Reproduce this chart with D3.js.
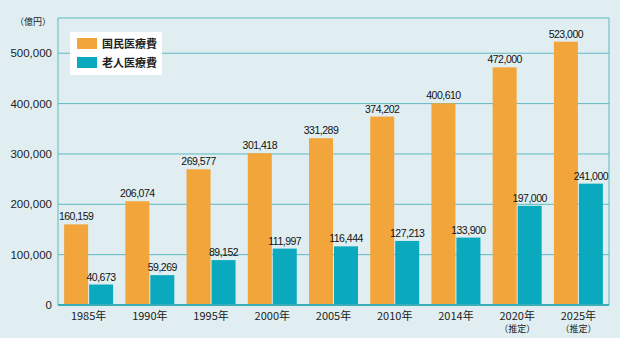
<!DOCTYPE html>
<html><head><meta charset="utf-8">
<script src="https://cdn.jsdelivr.net/npm/d3@7"></script>
<style>
body{margin:0;background:#e0eef1;}
svg{display:block;font-family:"Noto Sans CJK JP","Liberation Sans",sans-serif;}
</style></head><body>
<svg id="c" width="620" height="338"></svg>
<script>
const years = ["1985年","1990年","1995年","2000年","2005年","2010年","2014年","2020年","2025年"];
const yearNotes = ["","","","","","","","（推定）","（推定）"];
const national = [160159,206074,269577,301418,331289,374202,400610,472000,523000];
const elderly = [40673,59269,89152,111997,116444,127213,133900,197000,241000];
const yTicks = [0,100000,200000,300000,400000,500000];
const seriesNames = ["国民医療費","老人医療費"];
const colors = ["#f1a53b","#0aa9bd"];

const svg = d3.select("#c");
const L=58,R=609,T=18,B=305;
svg.append("rect").attr("width",620).attr("height",338).attr("fill","#e0eef1");
const x = d3.scaleBand().domain(years).range([L,R]).paddingInner(0.2).paddingOuter(0.1);
const xs = d3.scaleBand().domain([0,1]).range([0,x.bandwidth()]).paddingInner(0.04);
const y = d3.scaleLinear().domain([0,570000]).range([B,T]);

// grid
svg.append("g").selectAll("line").data(yTicks.slice(1)).join("line")
  .attr("x1",L).attr("x2",R).attr("y1",d=>y(d)).attr("y2",d=>y(d))
  .attr("stroke","#5fb9c1").attr("stroke-width",1);
// frame
svg.append("path").attr("d",`M${L},${B}V${T}H${R}V${B}`).attr("fill","none").attr("stroke","#5fb9c1");

// y axis labels
const yAxis = d3.axisLeft(y).tickValues(yTicks).tickSize(0).tickPadding(6).tickFormat(d3.format(","));
const ga = svg.append("g").attr("transform",`translate(${L},0)`).call(yAxis);
ga.select(".domain").remove();
ga.selectAll("text").attr("font-size",11.5).attr("fill","#222").attr("font-family","Liberation Sans, Arial, sans-serif");
svg.append("text").attr("x",51).attr("y",25).attr("text-anchor","end").attr("font-size",9).attr("fill","#222").text("（億円）");

// bars
const data = years.map((yr,i)=>({yr,vals:[national[i],elderly[i]]}));
const g = svg.append("g").selectAll("g").data(data).join("g").attr("transform",d=>`translate(${x(d.yr)},0)`);
g.selectAll("rect").data(d=>d.vals.map((v,k)=>({v,k}))).join("rect")
  .attr("x",d=>xs(d.k)).attr("width",xs.bandwidth())
  .attr("y",d=>y(d.v)).attr("height",d=>B-y(d.v)).attr("fill",d=>colors[d.k]);
g.selectAll("text.v").data(d=>d.vals.map((v,k)=>({v,k}))).join("text").attr("class","v")
  .attr("x",d=>xs(d.k)+xs.bandwidth()/2).attr("y",d=>y(d.v)-4)
  .attr("text-anchor","middle").attr("font-size",10.5).attr("fill","#111")
  .attr("font-family","Liberation Sans, Arial, sans-serif").attr("letter-spacing","-0.5")
  .text(d=>d3.format(",")(d.v));

// baseline
svg.append("line").attr("x1",L).attr("x2",R).attr("y1",B).attr("y2",B).attr("stroke","#3aaeb8").attr("stroke-width",2);

// x labels
const xl = svg.append("g").selectAll("g").data(years.map((yr,i)=>({yr,note:yearNotes[i]}))).join("g")
  .attr("transform",d=>`translate(${x(d.yr)+x.bandwidth()/2},0)`);
xl.append("text").attr("y",320).attr("text-anchor","middle").attr("font-size",11).attr("fill","#222").text(d=>d.yr);
xl.append("text").attr("y",332).attr("text-anchor","middle").attr("font-size",9).attr("fill","#222").text(d=>d.note);

// legend
const lg = svg.append("g");
lg.append("rect").attr("x",70).attr("y",32).attr("width",92).attr("height",43).attr("fill","#fff");
seriesNames.forEach((n,i)=>{
  lg.append("rect").attr("x",77).attr("y",38+i*19).attr("width",20).attr("height",11).attr("fill",colors[i]);
  lg.append("text").attr("x",102).attr("y",48+i*19).attr("font-size",11).attr("font-weight","bold").attr("fill","#222").text(n);
});
</script></body></html>
